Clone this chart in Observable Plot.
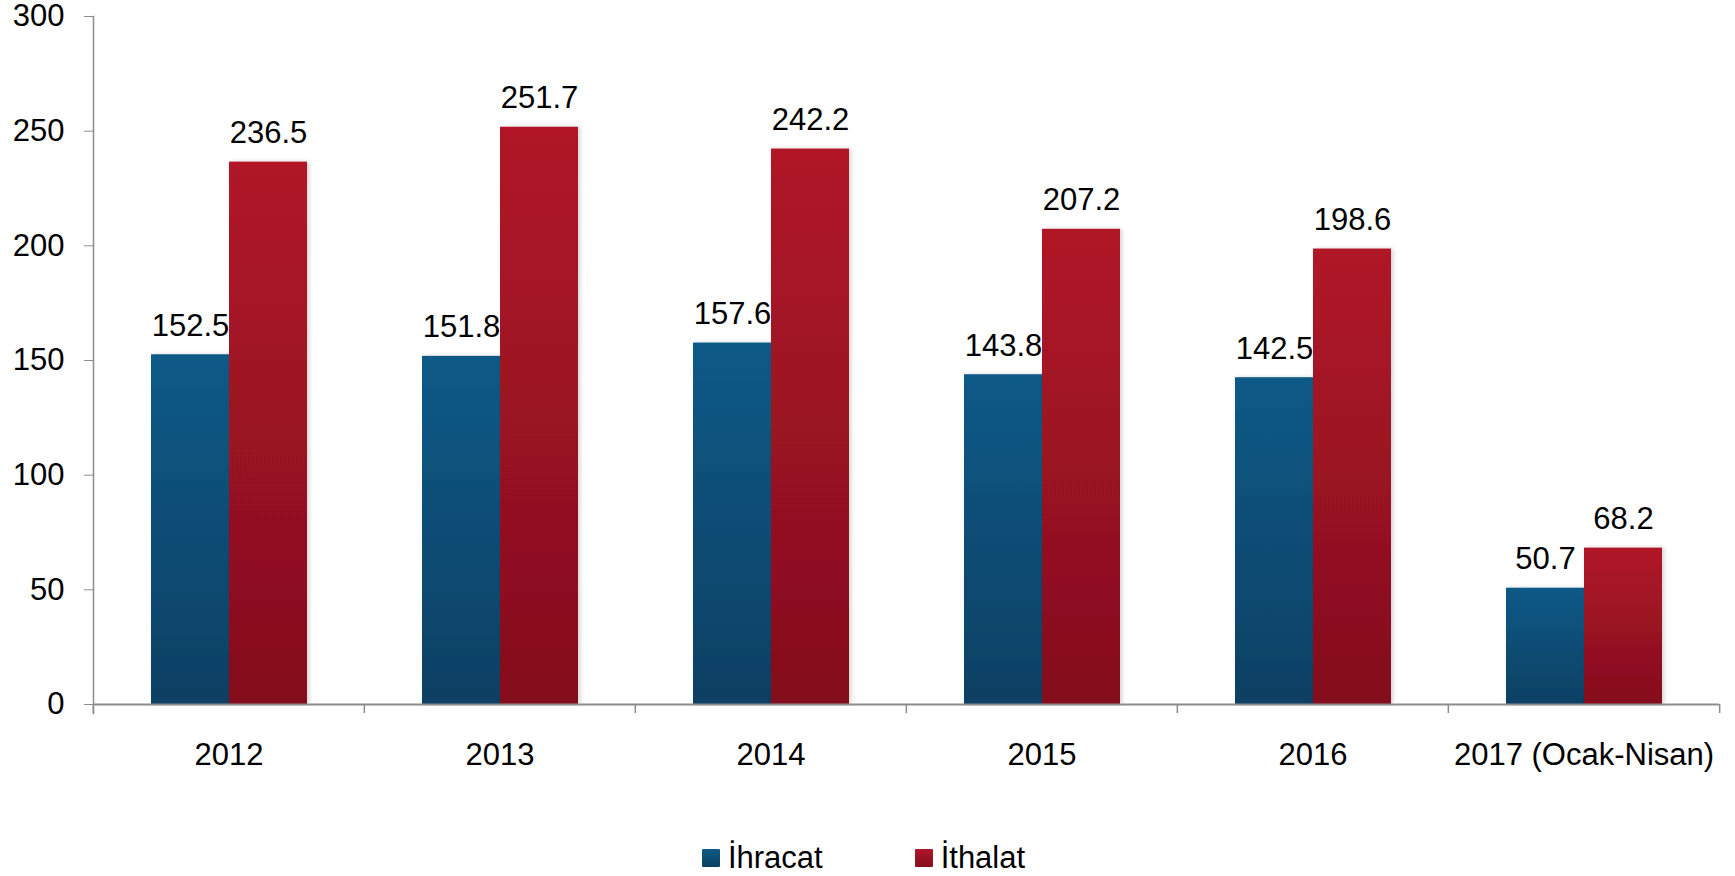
<!DOCTYPE html>
<html>
<head>
<meta charset="utf-8">
<script src="https://cdn.jsdelivr.net/npm/d3@7"></script>
<script src="https://cdn.jsdelivr.net/npm/@observablehq/plot@0.6"></script>
<style>
  html, body { margin: 0; padding: 0; background: #fff; }
  body { font-family: "Liberation Sans", Arial, sans-serif; width: 1735px; }
  #legend { height: 76px; display: flex; justify-content: center; align-items: flex-start; gap: 92px; padding-right: 8px; }
  #legend .item { display: flex; align-items: center; margin-top: 42px; height: 31px; }
  #legend .sw { width: 18px; height: 18px; margin-right: 8px; border-radius: 1px; }
  #legend .lb { font-size: 31px; line-height: 31px; color: #000; }
</style>
</head>
<body>
<div id="chart"></div>
<div id="legend"></div>
<script>
// ---- data ----
const categories = ["2012", "2013", "2014", "2015", "2016", "2017 (Ocak-Nisan)"];
const series = ["İhracat", "İthalat"];
const ihracat = [152.5, 151.8, 157.6, 143.8, 142.5, 50.7];
const ithalat = [236.5, 251.7, 242.2, 207.2, 198.6, 68.2];
const yTicks = [0, 50, 100, 150, 200, 250, 300];

// ---- styling ----
const gradTop = ["#0e5a87", "#b01528"];
const gradBottom = ["#094063", "#840f1e"];
const axisColor = "#8c8c8c";

const data = categories.flatMap((c, i) => [
  {category: c, series: series[0], value: ihracat[i]},
  {category: c, series: series[1], value: ithalat[i]}
]);

const W = 1735, H = 800, mL = 92, mR = 15, mT = 16, mB = 96;
const fxStep = (W - mL - mR) / categories.length;

const plot = Plot.plot({
  width: W,
  height: H,
  marginLeft: mL,
  marginRight: mR,
  marginTop: mT,
  marginBottom: mB,
  style: {fontFamily: "'Liberation Sans', Arial, sans-serif", fontSize: "31px", color: "#000", background: "#fff", overflow: "visible"},
  fx: {domain: categories, padding: 0, label: null},
  x: {domain: series, paddingInner: 0, paddingOuter: 0.717, axis: null},
  y: {domain: [0, 300], axis: null},
  color: {domain: series, range: series.map((s, i) => `url(#grad${i})`)},
  marks: [
    Plot.barY(data, {fx: "category", x: "series", y: "value", fill: "series", className: "bars"}),
    Plot.ruleY([0], {stroke: axisColor, strokeWidth: 2}),
    Plot.frame({anchor: "left", facetAnchor: "left", stroke: axisColor, strokeWidth: 1.5, insetBottom: -9}),
    Plot.axisY({ticks: yTicks, tickSize: 9, tickPadding: 20, stroke: axisColor, label: null, fontSize: 31, fill: "#000"}),
    Plot.axisFx({anchor: "bottom", tickSize: 0, tickPadding: 38, label: null, fontSize: 31, fill: "#000"}),
    Plot.axisFx({anchor: "bottom", tickSize: 9, tickFormat: () => "", label: null, stroke: axisColor, strokeWidth: 1.5, dx: -fxStep / 2}),
    Plot.axisFx({anchor: "bottom", ticks: [categories[categories.length - 1]], tickSize: 9, tickFormat: () => "", label: null, stroke: axisColor, strokeWidth: 1.5, dx: fxStep / 2}),
    Plot.text(data, {fx: "category", x: "series", y: "value", text: d => d.value.toFixed(1), lineAnchor: "bottom", dy: -19, fontSize: 31, fill: "#000"})
  ]
});

// gradients (per-bar vertical) and a soft shadow
const defs = d3.select(plot).insert("defs", ":first-child");
series.forEach((s, i) => {
  const g = defs.append("linearGradient").attr("id", `grad${i}`).attr("x1", 0).attr("y1", 0).attr("x2", 0).attr("y2", 1);
  g.append("stop").attr("offset", "0%").attr("stop-color", gradTop[i]);
  g.append("stop").attr("offset", "100%").attr("stop-color", gradBottom[i]);
});
const f = defs.append("filter").attr("id", "barShadow").attr("x", "-20%").attr("y", "-5%").attr("width", "140%").attr("height", "110%");
f.append("feDropShadow").attr("dx", 2).attr("dy", 0).attr("stdDeviation", 2).attr("flood-color", "#000").attr("flood-opacity", 0.18);
d3.select(plot).selectAll("g.bars rect").attr("filter", "url(#barShadow)");

document.getElementById("chart").appendChild(plot);

// legend
const legend = d3.select("#legend");
series.forEach((s, i) => {
  const it = legend.append("div").attr("class", "item");
  it.append("div").attr("class", "sw").style("background", `linear-gradient(${gradTop[i]}, ${gradBottom[i]})`);
  it.append("div").attr("class", "lb").text(s);
});
</script>
</body>
</html>
